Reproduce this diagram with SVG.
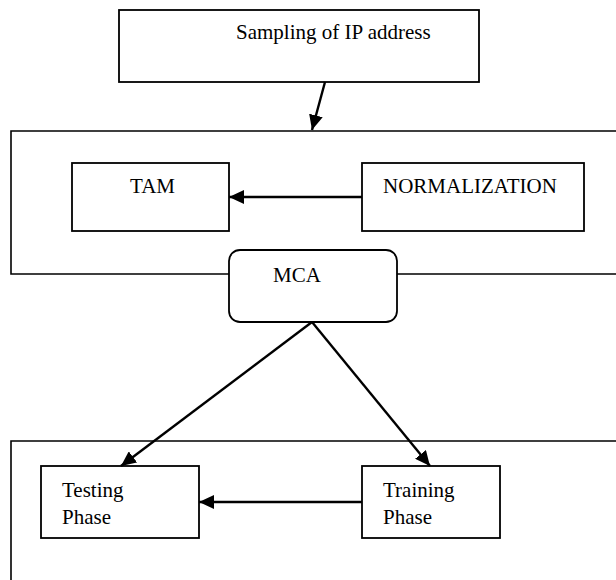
<svg xmlns="http://www.w3.org/2000/svg" width="616" height="580" viewBox="0 0 616 580">
<defs>
<marker id="ah" markerWidth="15" markerHeight="14" refX="15" refY="7" orient="auto" markerUnits="userSpaceOnUse">
<path d="M0,0 L15,7 L0,14 Z" fill="#000"/>
</marker>
<style>
.box{fill:#fff;stroke:#000;stroke-width:1.8}
.cont{fill:none;stroke:#000;stroke-width:1.6}
.t{font-family:"Liberation Serif","Times New Roman",serif;font-size:21px;fill:#000}
.c{stroke:#000;stroke-width:2.4;fill:none;marker-end:url(#ah)}
</style>
</defs>
<rect width="616" height="580" fill="#fff"/>
<g id="container1"><path class="cont" d="M617,131 H11 V274 H617"/></g>
<g id="container2"><path class="cont" d="M617,441 H11 V581"/></g>
<g id="sampling"><rect class="box" x="119" y="10" width="360" height="72"/><text class="t" x="236" y="39">Sampling of IP address</text></g>
<g id="tam"><rect class="box" x="72" y="163" width="157" height="68"/><text class="t" x="130" y="193">TAM</text></g>
<g id="normalization"><rect class="box" x="362" y="163" width="222" height="68"/><text class="t" x="383" y="193">NORMALIZATION</text></g>
<g id="mca"><rect class="box" x="229" y="250" width="168" height="72" rx="11"/><text class="t" x="273" y="282">MCA</text></g>
<g id="testing"><rect class="box" x="41" y="466" width="158" height="72"/><text class="t" x="62" y="497">Testing</text><text class="t" x="62" y="524">Phase</text></g>
<g id="training"><rect class="box" x="362" y="466" width="138" height="72"/><text class="t" x="383" y="497">Training</text><text class="t" x="383" y="524">Phase</text></g>
<g id="connectors">
<line class="c" x1="325" y1="82" x2="312" y2="130"/>
<line class="c" x1="362" y1="197" x2="229" y2="197"/>
<line class="c" x1="312" y1="322" x2="121" y2="466"/>
<line class="c" x1="312" y1="322" x2="430" y2="466"/>
<line class="c" x1="362" y1="502" x2="199" y2="502"/>
</g>
</svg>
